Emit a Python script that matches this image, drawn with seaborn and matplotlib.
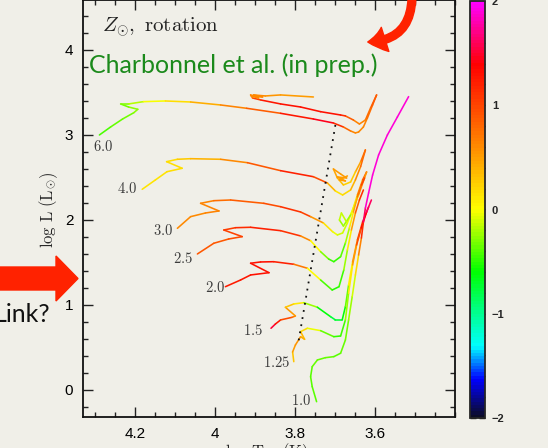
import numpy as np
import matplotlib
matplotlib.use("Agg")
import matplotlib.pyplot as plt
import seaborn as sns
from matplotlib.collections import LineCollection
from matplotlib.colors import LinearSegmentedColormap, Normalize
from matplotlib.patches import FancyArrow, FancyArrowPatch
import matplotlib.ticker as mticker

# ---------------- data (log Teff, log L, colour value) ----------------
t60 = [4.289, 4.261, 4.231, 4.203, 4.193, 4.216, 4.236, 4.216, 4.179, 4.124, 4.061, 3.986, 3.921, 3.836, 3.754,
       3.704, 3.679, 3.661, 3.649, 3.641, 3.629, 3.619, 3.606, 3.596, 3.611, 3.624, 3.639, 3.654, 3.674, 3.686,
       3.736, 3.786, 3.836, 3.886, 3.906, 3.911, 3.891, 3.909, 3.881, 3.904, 3.874, 3.836, 3.754]
l60 = [3.000, 3.094, 3.188, 3.262, 3.302, 3.329, 3.365, 3.365, 3.392, 3.400, 3.388, 3.353, 3.314, 3.255, 3.188,
       3.141, 3.094, 3.047, 3.024, 3.035, 3.094, 3.200, 3.353, 3.471, 3.318, 3.176, 3.129, 3.176, 3.224, 3.235,
       3.274, 3.329, 3.365, 3.412, 3.435, 3.471, 3.435, 3.459, 3.447, 3.471, 3.459, 3.471, 3.447]
c60 = [-0.45, -0.4, -0.35, -0.3, -0.25, -0.3, -0.35, -0.25, -0.1, 0.05, 0.3, 0.55, 0.7, 1.0, 1.5,
       1.4, 0.9, 0.7, 0.6, 0.6, 0.6, 0.7, 0.8, 0.9, 0.8, 0.7, 0.6, 0.7, 1.0, 1.3,
       1.3, 1.3, 1.3, 1.2, 0.8, 0.6, 0.6, 0.6, 0.6, 0.6, 0.6, 0.5, 0.5]

t40 = [4.182, 4.149, 4.120, 4.082, 4.121, 4.094, 4.061, 3.986, 3.919, 3.836, 3.754, 3.719, 3.699, 3.681, 3.661,
       3.649, 3.636, 3.624, 3.636, 3.649, 3.661, 3.679, 3.694, 3.704, 3.686, 3.671, 3.694, 3.674, 3.689, 3.669]
l40 = [2.361, 2.471, 2.568, 2.608, 2.686, 2.714, 2.721, 2.714, 2.674, 2.580, 2.509, 2.435, 2.341, 2.294, 2.353,
       2.471, 2.627, 2.824, 2.682, 2.565, 2.447, 2.412, 2.494, 2.600, 2.541, 2.494, 2.506, 2.459, 2.471, 2.518]
c40 = [0.15, 0.15, 0.15, 0.2, 0.15, 0.2, 0.3, 0.5, 0.7, 1.1, 1.3, 0.6, 0.2, 0.1, 0.3,
       0.5, 0.7, 0.9, 0.6, 0.3, 0.2, 0.25, 0.4, 0.5, 0.5, 0.5, 0.5, 0.5, 0.5, 0.5]

t30 = [4.094, 4.061, 4.024, 3.990, 4.036, 4.003, 3.961, 3.878, 3.836, 3.786, 3.761, 3.729, 3.706, 3.694, 3.681,
       3.669, 3.656, 3.644, 3.631, 3.621, 3.641, 3.661, 3.679, 3.689, 3.684, 3.671]
l30 = [1.902, 2.039, 2.082, 2.106, 2.196, 2.227, 2.235, 2.196, 2.156, 2.094, 2.039, 1.965, 1.862, 1.824, 1.847,
       1.965, 2.118, 2.294, 2.471, 2.565, 2.294, 2.059, 1.929, 2.000, 2.082, 1.976]
c30 = [0.6, 0.6, 0.6, 0.65, 0.6, 0.7, 0.8, 0.9, 1.0, 1.2, 0.8, 0.3, 0.0, -0.1, -0.1,
       -0.1, 0.0, 0.3, 0.7, 1.0, 0.1, -0.2, -0.3, -0.2, -0.1, -0.2]

t25 = [4.044, 4.003, 3.966, 3.932, 3.978, 3.949, 3.911, 3.836, 3.786, 3.761, 3.736, 3.716, 3.703, 3.686, 3.674,
       3.664, 3.654, 3.644, 3.634, 3.626]
l25 = [1.600, 1.726, 1.776, 1.804, 1.882, 1.909, 1.914, 1.874, 1.812, 1.756, 1.627, 1.541, 1.509, 1.568, 1.729,
       1.906, 2.094, 2.271, 2.412, 2.494]
c25 = [0.9, 0.9, 0.9, 1.0, 1.0, 1.1, 1.2, 1.2, 1.0, 0.2, -0.2, -0.4, -0.5, -0.5, -0.3,
       -0.1, 0.3, 0.6, 0.9, 1.1]

t20 = [3.974, 3.936, 3.911, 3.865, 3.911, 3.886, 3.853, 3.803, 3.769, 3.736, 3.707, 3.690, 3.678, 3.669, 3.659,
       3.649, 3.639, 3.629]
l20 = [1.215, 1.294, 1.353, 1.380, 1.491, 1.506, 1.509, 1.479, 1.432, 1.294, 1.176, 1.215, 1.412, 1.647, 1.882,
       2.082, 2.235, 2.353]
c20 = [1.2, 1.25, 1.3, 1.3, 1.3, 1.3, 1.3, 1.1, 0.3, -0.3, -0.55, -0.5, -0.4, -0.1, 0.3,
       0.7, 1.0, 1.2]

t15 = [3.860, 3.849, 3.836, 3.807, 3.799, 3.824, 3.803, 3.778, 3.744, 3.711, 3.699, 3.682, 3.674, 3.666, 3.656,
       3.644, 3.631, 3.616]
l15 = [0.726, 0.776, 0.824, 0.855, 0.871, 0.973, 1.012, 1.027, 0.973, 0.862, 0.824, 0.824, 0.980, 1.235, 1.506,
       1.765, 1.976, 2.153]
c15 = [1.6, 1.4, 1.1, 0.8, 0.6, 0.4, 0.2, 0.0, -0.5, -0.75, -0.8, -0.7, -0.5, -0.2, 0.3,
       0.8, 1.3, 1.7]

t125 = [3.803, 3.806, 3.799, 3.786, 3.776, 3.786, 3.769, 3.736, 3.703, 3.686, 3.674, 3.666, 3.656, 3.646, 3.634,
        3.621, 3.609]
l125 = [0.333, 0.447, 0.529, 0.627, 0.596, 0.686, 0.726, 0.698, 0.627, 0.635, 0.824, 1.138, 1.471, 1.706, 1.906,
        2.094, 2.235]
c125 = [0.2, 0.4, 0.6, 0.5, 0.4, 0.3, 0.1, -0.2, -0.5, -0.5, -0.4, -0.1, 0.3, 0.7, 1.2,
        1.5, 1.7]

t10 = [3.746, 3.757, 3.761, 3.757, 3.744, 3.724, 3.703, 3.686, 3.674, 3.666, 3.657, 3.649, 3.641, 3.634, 3.629,
       3.624, 3.616, 3.606, 3.591, 3.569, 3.544, 3.516]
l10 = [-0.138, 0.039, 0.156, 0.274, 0.353, 0.380, 0.392, 0.432, 0.588, 0.824, 1.098, 1.353, 1.588, 1.788, 1.976,
       2.141, 2.318, 2.529, 2.765, 3.000, 3.212, 3.451]
c10 = [-0.4, -0.4, -0.4, -0.4, -0.35, -0.35, -0.4, -0.4, -0.35, -0.3, -0.2, 0.0, 0.4, 0.9, 1.4,
       1.8, 1.9, 1.9, 1.9, 1.9, 1.9, 1.9]

masses = ["6.0", "4.0", "3.0", "2.5", "2.0", "1.5", "1.25", "1.0"]
label_T = [4.279, 4.219, 4.131, 4.079, 4.001, 3.904, 3.846, 3.784]
label_L = [2.870, 2.376, 1.871, 1.541, 1.200, 0.694, 0.318, -0.118]

dotted_T = [3.699, 3.792]
dotted_L = [3.118, 0.549]

x_ticks = [4.2, 4.0, 3.8, 3.6]
x_tick_labels = ["4.2", "4", "3.8", "3.6"]
y_ticks = [0, 1, 2, 3, 4]
y_tick_labels = ["0", "1", "2", "3", "4"]
cbar_ticks = [-2, -1, 0, 1, 2]
cbar_labels = ["\u22122", "\u22121", "0", "1", "2"]

tracks = [(t60, l60, c60), (t40, l40, c40), (t30, l30, c30), (t25, l25, c25),
          (t20, l20, c20), (t15, l15, c15), (t125, l125, c125), (t10, l10, c10)]

# ---------------- style ----------------
BG = "#f0efe8"
sns.set_style("ticks")
plt.rcParams["font.family"] = ["Liberation Sans", "DejaVu Sans"]
plt.rcParams["mathtext.fontset"] = "cm"
plt.rcParams["axes.facecolor"] = BG
plt.rcParams["figure.facecolor"] = BG

cmap = LinearSegmentedColormap.from_list(
    "track",
    [(0.0, "#0c0c28"), (0.09, "#0000ff"), (0.17, "#00ffff"), (0.35, "#00ff00"),
     (0.5, "#ffff00"), (0.665, "#ff8000"), (0.85, "#ff0000"), (1.0, "#ff00ff")], N=128)
norm = Normalize(vmin=-2, vmax=2)

W, H = 548, 448
fig = plt.figure(figsize=(W / 100, H / 100), dpi=100, facecolor=BG)
ax = fig.add_axes([83 / W, 31 / H, 372 / W, 416.5 / H])
ax.set_facecolor(BG)

for T, L, C in tracks:
    pts = np.column_stack([T, L])
    segs = np.stack([pts[:-1], pts[1:]], axis=1)
    vals = (np.array(C[:-1]) + np.array(C[1:])) / 2
    lc = LineCollection(segs, cmap=cmap, norm=norm, linewidths=1.15, capstyle="round", joinstyle="round")
    lc.set_array(vals)
    ax.add_collection(lc)

sns.lineplot(x=dotted_T, y=dotted_L, sort=False, color="#111111", lw=1.3,
             linestyle=(0, (1, 3)), ax=ax, legend=False)

for m, tx, ly in zip(masses, label_T, label_L):
    ax.text(tx, ly, r"$\mathrm{" + m + "}$", fontsize=10.5, color="#3c3c3c", ha="center", va="center")

ax.set_xlim(4.33, 3.4)
ax.set_ylim(-0.318, 4.582)
ax.set_xlabel("")
ax.set_ylabel("")
ax.set_xticks(x_ticks)
ax.set_xticklabels(x_tick_labels)
ax.set_yticks(y_ticks)
ax.set_yticklabels(y_tick_labels)
ax.xaxis.set_minor_locator(mticker.MultipleLocator(0.05))
ax.yaxis.set_minor_locator(mticker.MultipleLocator(0.2))
ax.tick_params(which="both", direction="in", top=True, right=True, color="#222222", labelcolor="black")
ax.tick_params(which="major", length=7, width=1.0, labelsize=11)
ax.tick_params(which="minor", length=3.6, width=1.0)
ax.tick_params(axis="x", pad=7)
ax.tick_params(axis="y", pad=7)
for s in ax.spines.values():
    s.set_linewidth(1.3)
    s.set_color("#111111")

ax.text(0.051, 0.935, r"$Z_{\odot},\ \mathrm{rotation}$", transform=ax.transAxes,
        fontsize=15, ha="left", va="center", color="#222222")
ax.text(0.016, 0.844, "Charbonnel et al. (in prep.)", transform=ax.transAxes,
        fontsize=18, ha="left", va="center", color="#1b8a1b", family=["Lato", "DejaVu Sans"])

# colorbar
cax = fig.add_axes([470 / W, 30 / H, 15 / W, 417 / H])
sm = plt.cm.ScalarMappable(norm=norm, cmap=cmap)
cb = fig.colorbar(sm, cax=cax)
cb.set_ticks(cbar_ticks)
cb.set_ticklabels(cbar_labels)
cb.ax.minorticks_on()
cb.ax.yaxis.set_minor_locator(mticker.MultipleLocator(0.2))
cb.ax.tick_params(which="both", direction="in", left=True, right=True, color="#111111",
                  width=1.0, labelsize=8, pad=5)
cb.ax.tick_params(which="major", length=4)
cb.ax.tick_params(which="minor", length=2.5)
for t in cb.ax.get_yticklabels():
    t.set_fontweight("bold")
cb.outline.set_linewidth(1.3)

# axis labels
fig.text(49 / W, 1 - 210 / H, r"$\mathrm{log\ L\ (L_{\odot})}$", rotation=90, fontsize=12,
         ha="center", va="center")
fig.text(267 / W, 7 / H, r"$\mathrm{log\ T_{eff}\ (K)}$", fontsize=12, ha="center", va="top")

# slide annotations
arrow = FancyArrow(0.0, 1.695, 0.78, 0.0, width=0.23, head_width=0.45, head_length=0.22,
                   length_includes_head=True, color="#ff2200", transform=fig.dpi_scale_trans)
fig.patches.append(arrow)
fig.text(50 / W, 1 - 314 / H, "Link?", fontsize=18, ha="right", va="center",
         family=["Lato", "DejaVu Sans"], color="#111111")
curved = FancyArrowPatch((4.12, 4.52), (3.65, 4.06), connectionstyle="arc3,rad=-0.5",
                         arrowstyle="simple,head_length=0.9,head_width=1.3,tail_width=0.4",
                         mutation_scale=14, color="#ff2200", transform=fig.dpi_scale_trans)
fig.patches.append(curved)

fig.savefig("out.png", dpi=100, facecolor=BG)
